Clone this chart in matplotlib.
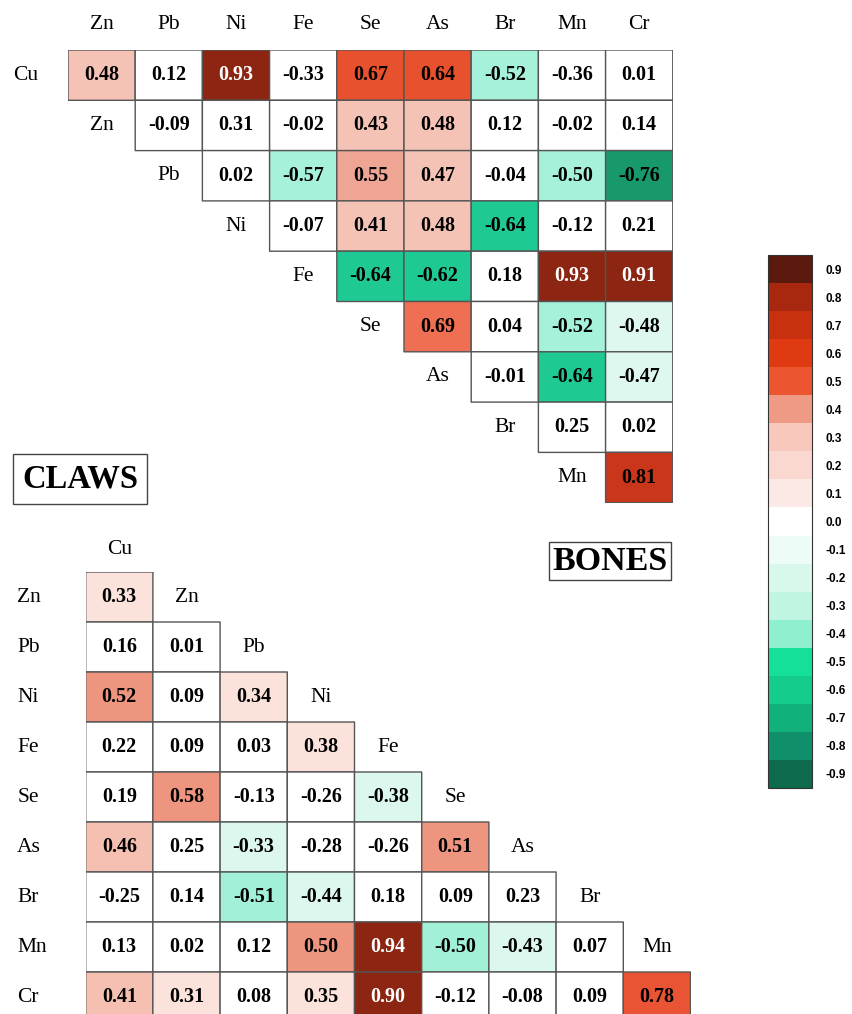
import numpy as np
import matplotlib
matplotlib.use('Agg')
import matplotlib.pyplot as plt
from matplotlib.colors import ListedColormap, BoundaryNorm
from matplotlib.cm import ScalarMappable

serif = 'Liberation Serif'

# BONES (upper triangle): rows Cu..Mn, columns Zn..Cr
bones_rows = ['Cu', 'Zn', 'Pb', 'Ni', 'Fe', 'Se', 'As', 'Br', 'Mn']
bones_cols = ['Zn', 'Pb', 'Ni', 'Fe', 'Se', 'As', 'Br', 'Mn', 'Cr']
bones_vals = [
    [0.48, 0.12, 0.93, -0.33, 0.67, 0.64, -0.52, -0.36, 0.01],
    [-0.09, 0.31, -0.02, 0.43, 0.48, 0.12, -0.02, 0.14],
    [0.02, -0.57, 0.55, 0.47, -0.04, -0.50, -0.76],
    [-0.07, 0.41, 0.48, -0.64, -0.12, 0.21],
    [-0.64, -0.62, 0.18, 0.93, 0.91],
    [0.69, 0.04, -0.52, -0.48],
    [-0.01, -0.64, -0.47],
    [0.25, 0.02],
    [0.81],
]

# CLAWS (lower triangle): rows Zn..Cr, columns Cu..Mn
claws_rows = ['Zn', 'Pb', 'Ni', 'Fe', 'Se', 'As', 'Br', 'Mn', 'Cr']
claws_cols = ['Cu', 'Zn', 'Pb', 'Ni', 'Fe', 'Se', 'As', 'Br', 'Mn']
claws_vals = [
    [0.33],
    [0.16, 0.01],
    [0.52, 0.09, 0.34],
    [0.22, 0.09, 0.03, 0.38],
    [0.19, 0.58, -0.13, -0.26, -0.38],
    [0.46, 0.25, -0.33, -0.28, -0.26, 0.51],
    [-0.25, 0.14, -0.51, -0.44, 0.18, 0.09, 0.23],
    [0.13, 0.02, 0.12, 0.50, 0.94, -0.50, -0.43, 0.07],
    [0.41, 0.31, 0.08, 0.35, 0.90, -0.12, -0.08, 0.09, 0.78],
]

# colour classes used in each panel
bones_bounds = [-1, -0.7, -0.6, -0.49, -0.4, 0.4, 0.5, 0.6, 0.68, 0.7, 0.9, 1]
bones_colors = ['#17996c', '#1ec993', '#a6f1da', '#dff8ef', '#ffffff', '#f4c3b6',
                '#eea593', '#e8512d', '#ee6f52', '#c9361a', '#8c2511']
claws_bounds = [-1, -0.45, -0.3, 0.3, 0.4, 0.5, 0.7, 0.9, 1]
claws_colors = ['#a2f0d8', '#dcf7ed', '#ffffff', '#fbe3dc', '#f5c0b1',
                '#ee9580', '#e85434', '#8c2511']

# colour bar legend
cbar_ticks = [-0.9, -0.8, -0.7, -0.6, -0.5, -0.4, -0.3, -0.2, -0.1, 0.0,
              0.1, 0.2, 0.3, 0.4, 0.5, 0.6, 0.7, 0.8, 0.9]
cbar_colors = ['#0e6a4c', '#10906a', '#12b07a', '#14cc8c', '#14e09a', '#8ef0cf',
               '#c0f5e2', '#d8f8ec', '#edfcf6', '#ffffff', '#fce8e4', '#fad8d0',
               '#f8c8bc', '#ef9a84', '#eb5530', '#e03a12', '#c8300f', '#a8280f',
               '#5c1a0e']

W, H = 853, 1014
cw, ch = 67.2, 50.3
fs_lab = 15.5
fs_val = 14.5


def tri_matrix(vals, upper):
    n = len(vals)
    M = np.full((n, n), np.nan)
    for i, row in enumerate(vals):
        if upper:
            M[i, i:i + len(row)] = row
        else:
            M[i, :len(row)] = row
    return M


def draw_panel(ax, M, bounds, colors):
    cmap = ListedColormap(colors)
    norm = BoundaryNorm(bounds, cmap.N)
    ax.pcolor(np.ma.masked_invalid(M), cmap=cmap, norm=norm,
              edgecolors='#555555', linewidth=1.0)
    n = M.shape[0]
    for i in range(n):
        for j in range(n):
            v = M[i, j]
            if np.isnan(v):
                continue
            ax.text(j + 0.5, i + 0.5, f'{v:.2f}', ha='center', va='center',
                    fontsize=fs_val, fontweight='bold', family=serif,
                    color='white' if v >= 0.9 else 'black')
    ax.set_xlim(0, n)
    ax.set_ylim(n, 0)
    ax.axis('off')


fig = plt.figure(figsize=(W / 100, H / 100), dpi=100)

# upper triangle (BONES)
x0, y0 = 68, 50
ax1 = fig.add_axes([x0 / W, 1 - (y0 + 9 * ch) / H, 9 * cw / W, 9 * ch / H])
draw_panel(ax1, tri_matrix(bones_vals, True), bones_bounds, bones_colors)
for j, c in enumerate(bones_cols):
    ax1.text(j + 0.5, -0.5, c, ha='center', va='center', fontsize=fs_lab, family=serif)
for i, r in enumerate(bones_rows):
    if i == 0:
        ax1.text(-0.82, 0.5, r, ha='left', va='center', fontsize=fs_lab, family=serif)
    else:
        ax1.text(i - 0.5, i + 0.5, r, ha='center', va='center', fontsize=fs_lab, family=serif)

# lower triangle (CLAWS)
x0, y0 = 85.7, 572
ch2 = 50.0
ax2 = fig.add_axes([x0 / W, 1 - (y0 + 9 * ch2) / H, 9 * cw / W, 9 * ch2 / H])
draw_panel(ax2, tri_matrix(claws_vals, False), claws_bounds, claws_colors)
ax2.text(0.5, -0.44, claws_cols[0], ha='center', va='center', fontsize=fs_lab, family=serif)
for i, r in enumerate(claws_rows):
    ax2.text(-1.02, i + 0.5, r, ha='left', va='center', fontsize=fs_lab, family=serif)
    if i < len(claws_rows) - 1:
        ax2.text(i + 1.5, i + 0.5, r, ha='center', va='center', fontsize=fs_lab, family=serif)

# panel titles
fig.text(80 / W, 1 - 479 / H, 'CLAWS', ha='center', va='center', fontsize=23.5,
         fontweight='bold', family=serif,
         bbox=dict(boxstyle='square,pad=0.28', fc='white', ec='#444444', lw=1))
fig.text(610 / W, 1 - 561 / H, 'BONES', ha='center', va='center', fontsize=24.5,
         fontweight='bold', family=serif,
         bbox=dict(boxstyle='square,pad=0.1', fc='white', ec='#444444', lw=1))

# colour bar
cax = fig.add_axes([768 / W, 1 - 788 / H, 44 / W, 533 / H])
cb_bounds = np.round(np.arange(-0.95, 0.96, 0.1), 2)
cb_cmap = ListedColormap(cbar_colors)
cb_norm = BoundaryNorm(cb_bounds, cb_cmap.N)
cb = fig.colorbar(ScalarMappable(norm=cb_norm, cmap=cb_cmap), cax=cax, ticks=cbar_ticks)
cb.ax.set_yticklabels([f'{t:.1f}' for t in cbar_ticks])
cb.ax.minorticks_off()
cb.ax.tick_params(which='both', length=0, pad=10, labelsize=8.5)
for lab in cb.ax.get_yticklabels():
    lab.set_fontweight('bold')
    lab.set_family('Liberation Sans')
cb.outline.set_linewidth(0.8)
cb.outline.set_edgecolor('#333333')

fig.savefig('out.png', dpi=100)
